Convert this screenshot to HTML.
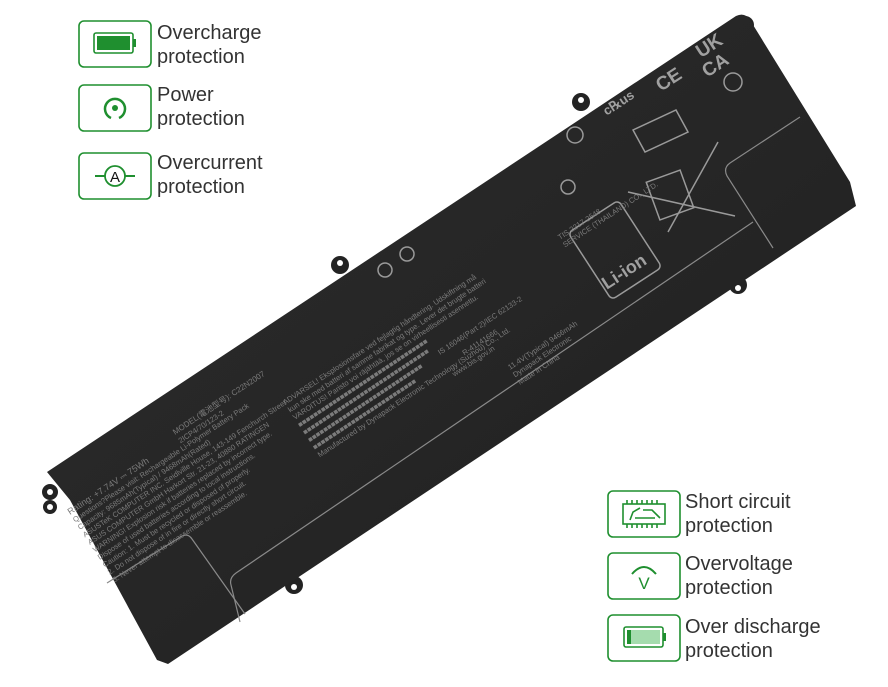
<!DOCTYPE html>
<html><head><meta charset="utf-8"><style>
body{margin:0;width:888px;height:687px;background:#fff;overflow:hidden;font-family:"Liberation Sans","Noto Sans CJK SC",sans-serif}
svg{position:absolute;left:0;top:0}
</style></head><body>
<svg width="888" height="687" viewBox="0 0 888 687">
<defs>
<linearGradient id="g" x1="0" y1="0" x2="1" y2="1">
<stop offset="0" stop-color="#2c2c2c"/><stop offset="0.5" stop-color="#262626"/><stop offset="1" stop-color="#1f1f1f"/>
</linearGradient>
</defs>
<g fill="#232323">
<circle cx="50" cy="492" r="8"/><circle cx="50" cy="507" r="7"/>
<circle cx="340" cy="265" r="9"/><circle cx="581" cy="102" r="9"/>
<circle cx="745" cy="25" r="9"/><circle cx="738" cy="285" r="9"/>
<circle cx="294" cy="585" r="9"/>
</g>
<g fill="#fff"><circle cx="50" cy="492" r="3"/><circle cx="50" cy="507" r="3"/><circle cx="340" cy="263" r="3"/><circle cx="581" cy="100" r="3"/><circle cx="752" cy="33" r="3"/><circle cx="738" cy="288" r="3"/><circle cx="294" cy="587" r="3"/></g>
<path d="M47,472 L736,16 Q745,12 750,20 L850,182 L856,206 L168,664 L157,660 L70,500 Z" fill="url(#g)"/>
<g stroke="#8a8a8a" stroke-width="1.2" fill="none">
<path d="M107,583 L182,536 Q188,533 192,539 L245,614"/>
<path d="M753,222 L236,573 Q229,578 231,585 L240,622"/>
<path d="M800,117 L730,163 Q723,168 727,176 L773,248"/>
</g>
<g fill="none" stroke="#9a9a9a" stroke-width="1.5">
<circle cx="385" cy="270" r="7"/><circle cx="407" cy="254" r="7"/>
<rect x="585" y="210" width="60" height="80" rx="5" transform="rotate(-33 615 250)"/>
<circle cx="575" cy="135" r="8"/><circle cx="568" cy="187" r="7"/>
<circle cx="733" cy="82" r="9"/>
<path d="M668,232 L718,142 M628,192 L735,216"/>
<rect x="652" y="175" width="36" height="40" transform="rotate(-20 670 195)"/>
<path d="M633,130 L676,110 L688,132 L645,152 Z"/>
</g>
<g fill="#a0a0a0" font-size="19" font-weight="bold">
<text x="656" y="85" transform="rotate(-33 670 80)">CE</text>
<text x="698" y="52" transform="rotate(-33 710 50)">UK</text>
<text x="703" y="72" transform="rotate(-33 715 68)">CA</text>
<text x="600" y="283" font-size="18" transform="rotate(-33 615 275)">Li-ion</text>
<text x="604" y="113" font-size="13" transform="rotate(-33 610 110)">c℞us</text>
</g>
<g fill="#7b7b7b" font-size="7.5">
<g transform="translate(70,515) rotate(-33.5)">
<text x="0" y="0" font-size="9">Rating: +7.74V ⎓ 75Wh</text>
<text x="0" y="9">Questions?Please visit: Rechargeable Li-Polymer Battery Pack</text>
<text x="0" y="18">Capacity: 9685mAh(Typical) / 9468mAh(Rated)</text>
<text x="0" y="27">ASUSTeK COMPUTER INC. Seidlville House, 143-149 Fenchurch Street</text>
<text x="0" y="36">ASUS COMPUTER GmbH Harkort Str. 21-23, 40880 RATINGEN</text>
<text x="0" y="45">WARNING! Explosion risk if batteries replaced by incorrect type.</text>
<text x="0" y="54">Dispose of used batteries according to local instructions.</text>
<text x="0" y="63">Caution: 1. Must be recycled or disposed of properly.</text>
<text x="0" y="72">2. Do not dispose of in fire or directly short circuit.</text>
<text x="0" y="81">3. Never attempt to disassemble or reassemble.</text>
</g>
<g transform="translate(175,435) rotate(-33.5)">
<text x="0" y="0" font-size="8">MODEL(電池型号): C22N2007</text>
<text x="0" y="10">2ICP4/70/123-2</text>
</g>
<g transform="translate(285,405) rotate(-33.5)">
<text x="0" y="0">ADVARSEL! Eksplosionsfare ved fejlagtig håndtering. Udskiftning må</text>
<text x="0" y="9">kun ske med batteri af samme fabrikat og type. Lever det brugte batteri</text>
<text x="0" y="18">VAROITUS! Paristo voi räjähtää, jos se on virheellisesti asennettu.</text>
<text x="0" y="27">■■■■■■■■■■■■■■■■■■■■■■■■■■■■■■■■■■</text>
<text x="0" y="36">■■■■■■■■■■■■■■■■■■■■■■■■■■■■■■■■■</text>
<text x="0" y="45">■■■■■■■■■■■■■■■■■■■■■■■■■■■■■■</text>
<text x="0" y="54">■■■■■■■■■■■■■■■■■■■■■■■■■■■</text>
<text x="0" y="63">Manufactured by Dynapack Electronic Technology (Suzhou) Co., Ltd.</text>
</g>
<g transform="translate(440,355) rotate(-33.5)">
<text x="0" y="0">IS 16046(Part 2)/IEC 62133-2</text>
<text x="20" y="14">R-41141666</text>
<text x="0" y="26">www.bis.gov.in</text>
</g>
<g transform="translate(560,240) rotate(-33.5)">
<text x="0" y="0">TIS 2217-2548</text>
<text x="0" y="9">SERVICE (THAILAND) CO., LTD.</text>
</g>
<g transform="translate(510,370) rotate(-33.5)">
<text x="0" y="0">11.4V(Typical) 9466mAh</text>
<text x="0" y="9">Dynapack Electronic</text>
<text x="0" y="18">Made in China</text>
</g>
</g>
<g fill="none" stroke="#1f8f2f" stroke-width="1.6">
<rect x="79" y="21" width="72" height="46" rx="5"/>
<rect x="79" y="85" width="72" height="46" rx="5"/>
<rect x="79" y="153" width="72" height="46" rx="5"/>
<rect x="608" y="491" width="72" height="46" rx="5"/>
<rect x="608" y="553" width="72" height="46" rx="5"/>
<rect x="608" y="615" width="72" height="46" rx="5"/>
</g>
<rect x="94" y="33" width="39" height="20" rx="2" fill="none" stroke="#1f8f2f" stroke-width="1.6"/>
<rect x="97" y="36" width="33" height="14" fill="#1f8f2f"/>
<rect x="133" y="39" width="3" height="8" fill="#1f8f2f"/>
<path d="M111,118 A10,10 0 1 1 119,118" fill="none" stroke="#1f8f2f" stroke-width="2.5"/>
<circle cx="115" cy="108" r="3" fill="#1f8f2f"/>
<path d="M95,176 L105,176 M125,176 L135,176" stroke="#1f8f2f" stroke-width="2"/>
<circle cx="115" cy="176" r="10" fill="none" stroke="#1f8f2f" stroke-width="1.8"/>
<text x="115" y="182" font-size="15" fill="#111" text-anchor="middle">A</text>
<g stroke="#1f8f2f" stroke-width="1.6" fill="none">
<rect x="623" y="504" width="42" height="20"/>
<path d="M627,500v4M632,500v4M637,500v4M642,500v4M647,500v4M652,500v4M657,500v4M627,524v4M632,524v4M637,524v4M642,524v4M647,524v4M652,524v4M657,524v4"/>
<path d="M630,520 L633,512 L640,508 M643,510 L652,510 L660,518 M635,518 L655,518"/>
</g>
<path d="M632,574 Q644,560 656,574" fill="none" stroke="#1f8f2f" stroke-width="2"/>
<text x="644" y="589" font-size="17" fill="#1f8f2f" text-anchor="middle">V</text>
<rect x="624" y="627" width="39" height="20" rx="2" fill="none" stroke="#1f8f2f" stroke-width="1.6"/>
<rect x="627" y="630" width="33" height="14" fill="#a5dcae"/>
<rect x="627" y="630" width="4" height="14" fill="#1f8f2f"/>
<rect x="663" y="633" width="3" height="8" fill="#1f8f2f"/>
<g fill="#333" font-size="20">
<text x="157" y="39">Overcharge</text><text x="157" y="63">protection</text>
<text x="157" y="101">Power</text><text x="157" y="125">protection</text>
<text x="157" y="169">Overcurrent</text><text x="157" y="193">protection</text>
<text x="685" y="508">Short circuit</text><text x="685" y="532">protection</text>
<text x="685" y="570">Overvoltage</text><text x="685" y="594">protection</text>
<text x="685" y="633">Over discharge</text><text x="685" y="657">protection</text>
</g>
</svg>
</body></html>
